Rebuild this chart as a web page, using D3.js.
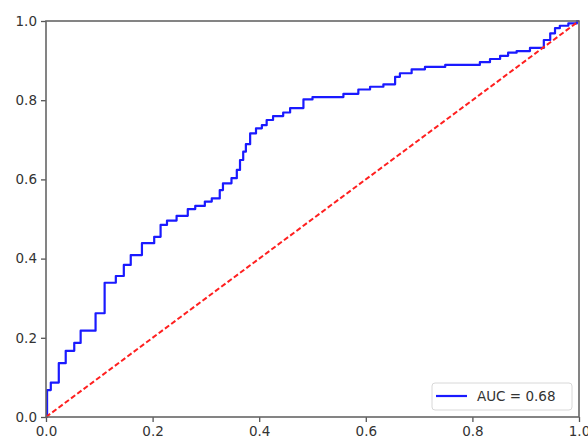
<!DOCTYPE html>
<html>
<head>
<meta charset="utf-8">
<script src="https://cdn.jsdelivr.net/npm/d3@7"></script>
<style>
  html, body { margin: 0; padding: 0; background: #fff; }
  svg { display: block; }
</style>
</head>
<body>
<svg id="chart" width="588" height="442"></svg>
<script>
const fpr = [0, 0.002, 0.009, 0.024, 0.037, 0.053, 0.065, 0.093, 0.110, 0.131, 0.146, 0.159, 0.180, 0.203, 0.215, 0.227, 0.245, 0.266, 0.280, 0.298, 0.311, 0.326, 0.332, 0.348, 0.358, 0.364, 0.370, 0.375, 0.383, 0.394, 0.405, 0.414, 0.426, 0.445, 0.458, 0.483, 0.500, 0.558, 0.586, 0.608, 0.633, 0.655, 0.664, 0.686, 0.711, 0.749, 0.814, 0.833, 0.852, 0.867, 0.883, 0.908, 0.934, 0.946, 0.955, 0.964, 0.980, 0.996, 1.0];
const tpr = [0, 0.068, 0.087, 0.136, 0.167, 0.187, 0.218, 0.262, 0.339, 0.356, 0.384, 0.409, 0.439, 0.455, 0.485, 0.496, 0.508, 0.525, 0.533, 0.544, 0.552, 0.573, 0.590, 0.603, 0.624, 0.649, 0.670, 0.689, 0.716, 0.729, 0.737, 0.750, 0.760, 0.769, 0.780, 0.802, 0.808, 0.816, 0.827, 0.834, 0.840, 0.859, 0.868, 0.878, 0.884, 0.889, 0.896, 0.904, 0.912, 0.920, 0.924, 0.932, 0.952, 0.969, 0.982, 0.988, 0.994, 1.0, 1.0];
const chanceLine = [[0, 0], [1, 1]];
const xTicks = [0, 0.2, 0.4, 0.6, 0.8, 1.0];
const yTicks = [0, 0.2, 0.4, 0.6, 0.8, 1.0];
const legendLabel = "AUC = 0.68";

(function () {
const svg = d3.select("#chart");
const mLeft = 46, mRight = 579, mTop = 21, mBottom = 417;
const x = d3.scaleLinear().domain([0, 1]).range([mLeft, mRight]);
const y = d3.scaleLinear().domain([0, 1]).range([mBottom, mTop]);
const font = "DejaVu Sans, sans-serif";

const roc = fpr.map((f, i) => [f, tpr[i]]);

const plot = svg.append("g");
plot.append("path")
  .datum(roc)
  .attr("fill", "none")
  .attr("stroke", "#1a1aff")
  .attr("stroke-width", 2.2)
  .attr("stroke-linejoin", "round")
  .attr("d", d3.line().x(d => x(d[0])).y(d => y(d[1])).curve(d3.curveStepAfter));

plot.append("path")
  .datum(chanceLine)
  .attr("fill", "none")
  .attr("stroke", "#ff2020")
  .attr("stroke-width", 2)
  .attr("stroke-dasharray", "5.2,2.6")
  .attr("d", d3.line().x(d => x(d[0])).y(d => y(d[1])));

const xAxis = d3.axisBottom(x).tickValues(xTicks).tickFormat(d3.format(".1f")).tickSize(5).tickPadding(4);
const yAxis = d3.axisLeft(y).tickValues(yTicks).tickFormat(d3.format(".1f")).tickSize(5).tickPadding(4);

const gx = svg.append("g").attr("transform", `translate(0,${mBottom})`).call(xAxis);
const gy = svg.append("g").attr("transform", `translate(${mLeft},0)`).call(yAxis);
[gx, gy].forEach(g => {
  g.select(".domain").remove();
  g.selectAll(".tick line").attr("stroke", "#555").attr("stroke-width", 1.3);
  g.selectAll(".tick text").attr("fill", "#333").style("font-family", font).style("font-size", "13.5px");
});

svg.append("rect")
  .attr("x", mLeft).attr("y", mTop)
  .attr("width", mRight - mLeft).attr("height", mBottom - mTop)
  .attr("fill", "none").attr("stroke", "#666").attr("stroke-width", 1.6);

const lg = svg.append("g");
lg.append("rect")
  .attr("x", 432).attr("y", 383).attr("width", 140).attr("height", 27)
  .attr("rx", 3).attr("fill", "#fff").attr("stroke", "#d8d8d8").attr("stroke-width", 1);
lg.append("line")
  .attr("x1", 436).attr("x2", 467).attr("y1", 396).attr("y2", 396)
  .attr("stroke", "#1a1aff").attr("stroke-width", 2.2);
lg.append("text")
  .attr("x", 477).attr("y", 401)
  .attr("fill", "#333")
  .style("font-family", font).style("font-size", "13.5px")
  .text(legendLabel);
})();
</script>
</body>
</html>
